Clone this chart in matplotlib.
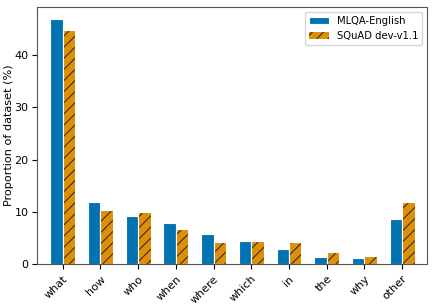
import matplotlib
matplotlib.use("Agg")
import matplotlib.pyplot as plt
import numpy as np

categories = ["what", "how", "who", "when", "where", "which", "in", "the", "why", "other"]
mlqa = [46.9, 11.8, 9.2, 7.9, 5.7, 4.4, 2.9, 1.4, 1.1, 8.7]
squad = [44.8, 10.3, 10.0, 6.7, 4.2, 4.4, 4.2, 2.3, 1.5, 11.9]

plt.rcParams["hatch.linewidth"] = 0.7
plt.rcParams["font.size"] = 8
fig = plt.figure(figsize=(4.36, 3.05), dpi=100)
ax = fig.add_axes([37/436, 41/305, 390/436, 257/305])
x = np.arange(len(categories))
w = 0.33
ax.bar(x - w/2, mlqa, w, color="#0173b2", edgecolor="white", linewidth=0.8, label="MLQA-English")
ax.bar(x + w/2, squad, w, color="#de8f05", edgecolor="#222222", linewidth=0, hatch="///", label="SQuAD dev-v1.1")
ax.bar(x + w/2, squad, w, fill=False, edgecolor="white", linewidth=0.8)
ax.set_xticks(x)
ax.set_xticklabels(categories, rotation=45, ha="right", rotation_mode="anchor")
ax.tick_params(axis="y", pad=2.5)
ax.set_xlim(-0.68, 9.66)
ax.set_yticks([0, 10, 20, 30, 40])
ax.set_ylabel("Proportion of dataset (%)", fontsize=8.1)
ax.yaxis.set_label_coords(-0.06, 0.5)
for s in ax.spines.values():
    s.set_color("#555555")
ax.legend(loc="upper right", fontsize=7.2)
fig.savefig("out.png", dpi=100)
